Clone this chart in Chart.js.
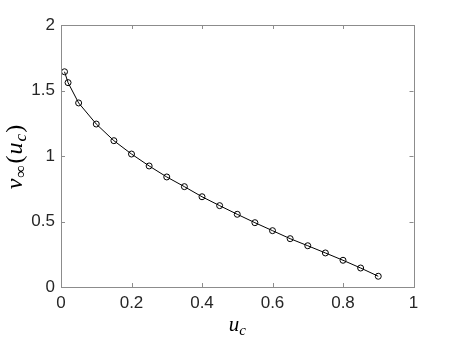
<!DOCTYPE html>
<html>
<head>
<meta charset="utf-8">
<script src="https://cdn.jsdelivr.net/npm/chart.js@4/dist/chart.umd.min.js"></script>
<style>
  html, body { margin: 0; padding: 0; background: #fff; }
  #wrap { width: 457px; height: 343px; position: relative; }
</style>
</head>
<body>
<div id="wrap"><canvas id="c" width="457" height="343"></canvas></div>
<script>
// data
const ucValues = [0.01, 0.02, 0.05, 0.1, 0.15, 0.2, 0.25, 0.3, 0.35, 0.4, 0.45, 0.5, 0.55, 0.6, 0.65, 0.7, 0.75, 0.8, 0.85, 0.9];
const vInf = [1.643, 1.56, 1.405, 1.244, 1.117, 1.015, 0.924, 0.84, 0.766, 0.689, 0.621, 0.555, 0.491, 0.43, 0.369, 0.315, 0.26, 0.204, 0.145, 0.082];
const xTicks = [0, 0.2, 0.4, 0.6, 0.8, 1];
const yTicks = [0, 0.5, 1, 1.5, 2];

const axisColor = '#8c8c8c';
const textColor = '#262626';
const tickFont = { family: 'Liberation Sans, Arial, sans-serif', size: 17 };

// MATLAB style box with inward ticks + latex-ish axis labels
const boxPlugin = {
  id: 'matlabBox',
  afterDatasetsDraw(chart) {
    const { ctx, chartArea: a, scales } = chart;
    const len = 4;
    ctx.save();
    ctx.strokeStyle = axisColor;
    ctx.lineWidth = 1;
    ctx.strokeRect(Math.round(a.left) + 0.5, Math.round(a.top) + 0.5,
      Math.round(a.right - a.left), Math.round(a.bottom - a.top));
    ctx.beginPath();
    xTicks.forEach(t => {
      const x = Math.round(scales.x.getPixelForValue(t)) + 0.5;
      ctx.moveTo(x, a.bottom); ctx.lineTo(x, a.bottom - len);
      ctx.moveTo(x, a.top); ctx.lineTo(x, a.top + len);
    });
    yTicks.forEach(t => {
      const y = Math.round(scales.y.getPixelForValue(t)) + 0.5;
      ctx.moveTo(a.left, y); ctx.lineTo(a.left + len, y);
      ctx.moveTo(a.right, y); ctx.lineTo(a.right - len, y);
    });
    ctx.stroke();

    // axis labels with subscripts
    ctx.fillStyle = '#000';
    ctx.textBaseline = 'alphabetic';
    const big = 'italic 21px "Liberation Serif", "DejaVu Serif", serif';
    const small = 'italic 15px "Liberation Serif", "DejaVu Serif", serif';

    // x label: u_c
    const cx = (a.left + a.right) / 2;
    ctx.font = big; const wu = ctx.measureText('u').width;
    ctx.font = small; const wc = ctx.measureText('c').width;
    let x0 = cx - (wu + wc) / 2;
    ctx.font = big; ctx.fillText('u', x0, 331);
    ctx.font = small; ctx.fillText('c', x0 + wu, 335);

    // y label: v∞(u_c), rotated
    const bigY = 'italic 24px "Liberation Serif", "DejaVu Serif", serif';
    const smallY = 'italic 17px "Liberation Serif", "DejaVu Serif", serif';
    const upY = '24px "Liberation Serif", "DejaVu Serif", serif';
    ctx.translate(22, (a.top + a.bottom) / 2 + 1);
    ctx.rotate(-Math.PI / 2);
    const parts = [
      ['v', bigY, 0, 1], ['∞', smallY, 4, 2], ['(', upY, 0, 1], ['u', bigY, 0, 1], ['c', smallY, 4, 1], [')', upY, 0, 0]
    ];
    let total = 0;
    parts.forEach(p => { ctx.font = p[1]; total += ctx.measureText(p[0]).width + p[3]; });
    let px = -total / 2;
    parts.forEach(p => {
      ctx.font = p[1];
      ctx.fillText(p[0], px, p[2]);
      px += ctx.measureText(p[0]).width + p[3];
    });
    ctx.restore();
  }
};

new Chart(document.getElementById('c'), {
  type: 'line',
  data: {
    datasets: [{
      data: ucValues.map((u, i) => ({ x: u, y: vInf[i] })),
      borderColor: '#000',
      borderWidth: 1,
      pointRadius: 3,
      pointBorderWidth: 1,
      pointBorderColor: '#000',
      pointBackgroundColor: 'rgba(0,0,0,0)',
      tension: 0,
      fill: false
    }]
  },
  options: {
    responsive: false,
    animation: false,
    layout: { padding: { left: 0, top: 25, right: 43.5, bottom: 0 } },
    plugins: { legend: { display: false }, tooltip: { enabled: false } },
    scales: {
      x: {
        type: 'linear', min: 0, max: 1,
        border: { display: false },
        grid: { display: false, drawTicks: false },
        afterBuildTicks: s => { s.ticks = xTicks.map(v => ({ value: v })); },
        afterFit: s => { s.height = 56; },
        ticks: { color: textColor, font: tickFont, padding: 6, maxRotation: 0, callback: v => String(v) }
      },
      y: {
        type: 'linear', min: 0, max: 2,
        border: { display: false },
        grid: { display: false, drawTicks: false },
        afterBuildTicks: s => { s.ticks = yTicks.map(v => ({ value: v })); },
        afterFit: s => { s.width = 61; },
        ticks: { color: textColor, font: tickFont, padding: 6, callback: v => String(v) }
      }
    }
  },
  plugins: [boxPlugin]
});
</script>
</body>
</html>
